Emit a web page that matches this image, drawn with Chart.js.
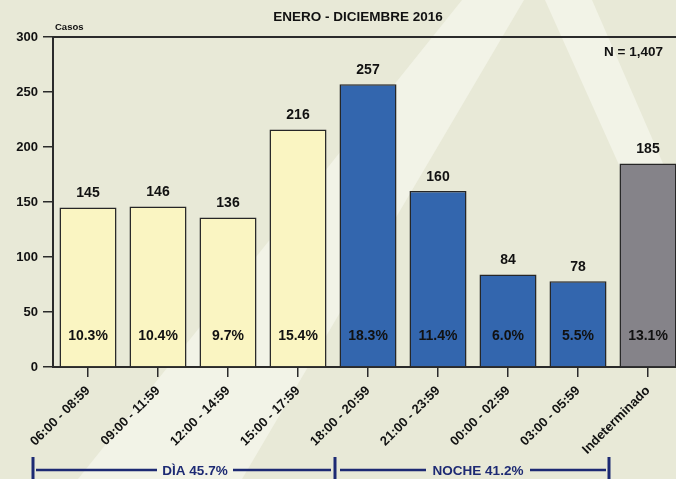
<!DOCTYPE html>
<html>
<head>
<meta charset="utf-8">
<script src="https://cdn.jsdelivr.net/npm/chart.js@4"></script>
<style>
  html, body { margin: 0; padding: 0; overflow: hidden; background: #e8e9d7; }
  #wrap { width: 676px; height: 479px; overflow: hidden; }
</style>
</head>
<body>
<div id="wrap"><canvas id="casosChart" width="690" height="479"></canvas></div>
<script>
// Data
const franjas = ["06:00 - 08:59", "09:00 - 11:59", "12:00 - 14:59", "15:00 - 17:59",
  "18:00 - 20:59", "21:00 - 23:59", "00:00 - 02:59", "03:00 - 05:59", "Indeterminado"];
const casos = [145, 146, 136, 216, 257, 160, 84, 78, 185];
const porcentajes = ["10.3%", "10.4%", "9.7%", "15.4%", "18.3%", "11.4%", "6.0%", "5.5%", "13.1%"];
const periodos = ["DÌA 45.7%", "NOCHE 41.2%"];
const yTicks = [0, 50, 100, 150, 200, 250, 300];

const AMARILLO = "#faf5c2";
const AZUL = "#3366ae";
const GRIS = "#858389";
const colores = casos.map((v, i) => i < 4 ? AMARILLO : (i < 8 ? AZUL : GRIS));

const FONT = "'Liberation Sans', Arial, sans-serif";
const NAVY = "#1d2a73";

// background with the light watermark stripes
const fondo = {
  id: "fondo",
  beforeDraw(chart) {
    const c = chart.ctx;
    c.save();
    c.fillStyle = "#e8e9d7";
    c.fillRect(0, 0, chart.width, chart.height);
    c.fillStyle = "#f2f3e7";
    c.beginPath();
    c.moveTo(462, 0); c.lineTo(524, 0); c.lineTo(242, 479); c.lineTo(78, 479);
    c.closePath(); c.fill();
    c.beginPath();
    c.moveTo(545, 0); c.lineTo(592, 0); c.lineTo(800, 479); c.lineTo(760, 479);
    c.closePath(); c.fill();
    c.restore();
  }
};

// texts, top border, value labels, bottom brackets
const extras = {
  id: "extras",
  afterDraw(chart) {
    const c = chart.ctx;
    const area = chart.chartArea;
    c.save();
    // top border
    c.strokeStyle = "#2b2b2b";
    c.lineWidth = 2;
    c.beginPath();
    c.moveTo(area.left, area.top);
    c.lineTo(chart.width, area.top);
    c.stroke();

    c.fillStyle = "#111";
    c.textAlign = "center";
    c.textBaseline = "middle";
    c.font = "bold 13.5px " + FONT;
    c.fillText("ENERO - DICIEMBRE 2016", 358, 17);
    c.font = "bold 9.5px " + FONT;
    c.textAlign = "left";
    c.fillText("Casos", 55, 27);
    c.font = "bold 13.5px " + FONT;
    c.textAlign = "right";
    c.fillText("N = 1,407", 663, 52);

    // value labels
    const meta = chart.getDatasetMeta(0);
    const y = chart.scales.y;
    c.textAlign = "center";
    c.font = "bold 14px " + FONT;
    meta.data.forEach((bar, i) => {
      c.fillStyle = "#111";
      c.fillText(String(casos[i]), bar.x, bar.y - 14);
      c.fillText(porcentajes[i], bar.x, y.getPixelForValue(28));
    });

    // bottom brackets
    c.strokeStyle = NAVY;
    c.fillStyle = NAVY;
    c.lineWidth = 3;
    [33, 335, 609].forEach(x => {
      c.beginPath(); c.moveTo(x, 457); c.lineTo(x, 479); c.stroke();
    });
    c.lineWidth = 2.5;
    const segs = [[36, 157], [233, 331], [340, 426], [530, 606]];
    segs.forEach(s => {
      c.beginPath(); c.moveTo(s[0], 470); c.lineTo(s[1], 470); c.stroke();
    });
    c.font = "bold 13.5px " + FONT;
    c.fillText(periodos[0], 195, 471);
    c.fillText(periodos[1], 478, 471);
    c.restore();
  }
};

const ctx = document.getElementById("casosChart").getContext("2d");
const casosChart = new Chart(ctx, {
  type: "bar",
  data: {
    labels: franjas,
    datasets: [{
      data: casos,
      backgroundColor: colores,
      borderColor: "#262626",
      borderWidth: 1.5,
      categoryPercentage: 1,
      barPercentage: 0.815
    }]
  },
  options: {
    responsive: false,
    animation: false,
    layout: { padding: { top: 37, right: 7, left: 0, bottom: 0 } },
    plugins: {
      legend: { display: false },
      tooltip: { enabled: false }
    },
    scales: {
      x: {
        afterFit(scale) { scale.height = 112; },
        grid: {
          offset: false,
          drawOnChartArea: false,
          color: "#2b2b2b",
          tickLength: 10,
          lineWidth: 1.5
        },
        border: { color: "#2b2b2b", width: 2 },
        ticks: {
          color: "#111",
          font: { family: FONT, size: 13, weight: "bold" },
          minRotation: 45,
          maxRotation: 45,
          padding: 6
        }
      },
      y: {
        min: 0,
        max: 300,
        afterFit(scale) { scale.width = 53; },
        afterBuildTicks(scale) { scale.ticks = yTicks.map(v => ({ value: v })); },
        grid: {
          drawOnChartArea: false,
          color: "#2b2b2b",
          tickLength: 10,
          lineWidth: 1.5
        },
        border: { color: "#2b2b2b", width: 2 },
        ticks: {
          color: "#111",
          font: { family: FONT, size: 13, weight: "bold" },
          padding: 5
        }
      }
    }
  },
  plugins: [fondo, extras]
});
</script>
</body>
</html>
